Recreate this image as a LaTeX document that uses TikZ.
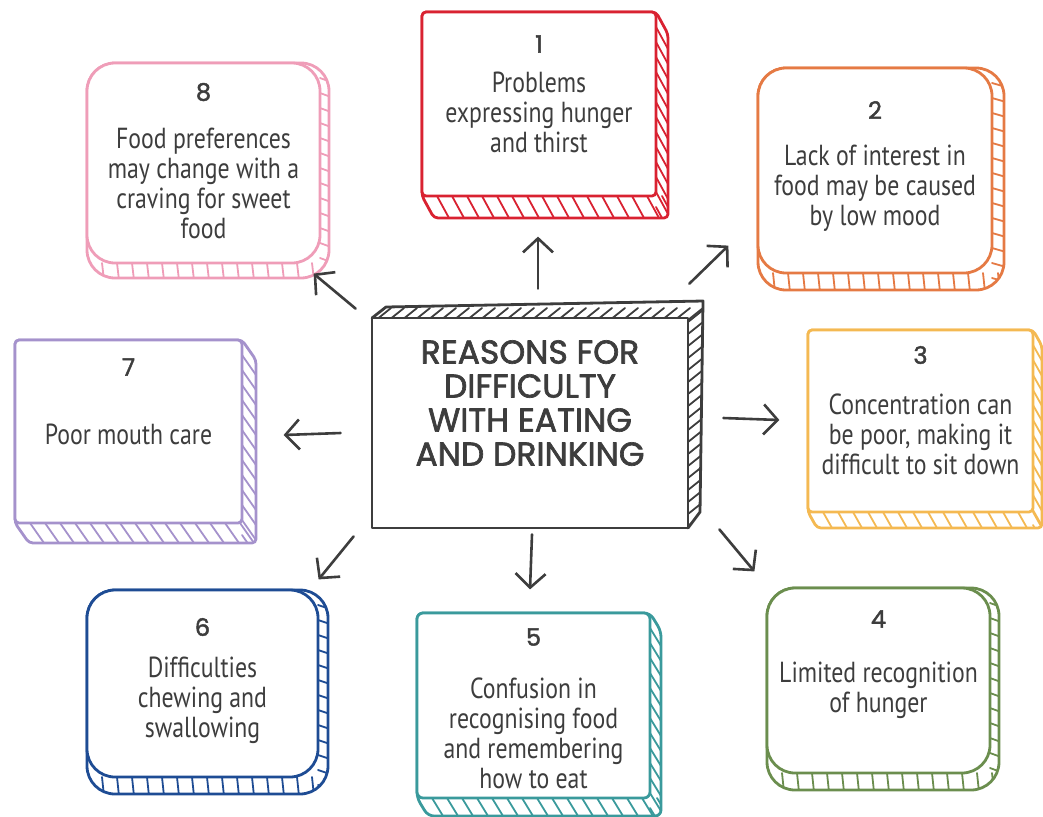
\documentclass[tikz,border=0pt]{standalone}
\usepackage{fontspec}
\setmainfont{PT Sans}[FakeStretch = 0.82]
\newfontfamily\titlefont{Poppins}[FakeBold = 2]
\newfontfamily\numfont{Poppins}[FakeBold = 1.8]
\usetikzlibrary{arrows.meta}

\definecolor{ink}{HTML}{3D3D3D}
\definecolor{redbox}{HTML}{D92231}
\definecolor{orangebox}{HTML}{E57A44}
\definecolor{yellowbox}{HTML}{F4B952}
\definecolor{greenbox}{HTML}{6B8E4E}
\definecolor{tealbox}{HTML}{3A9A9C}
\definecolor{bluebox}{HTML}{1E4C94}
\definecolor{purplebox}{HTML}{A592CC}
\definecolor{pinkbox}{HTML}{EF9DB8}

\begin{document}
\begin{tikzpicture}[x = 0.5pt, y = -0.5pt, > = {Straight Barb[length = 7pt, width = 15pt]},
	line join = round, line cap = round,
	frame/.style = {line width = 1.4pt},
	hatch/.style = {line width = 0.9pt},
	number/.style = {font = \numfont\fontsize{12}{14}\selectfont, text = ink},
	reason/.style = {font = \fontsize{14.5}{15}\selectfont, text = ink, align = center, inner sep = 0pt},
	title/.style = {font = \titlefont\fontsize{16.5}{17}\selectfont, text = ink, align = center, inner sep = 0pt},
	pointer/.style = {->, ink, line width = 1.3pt}]

	\useasboundingbox (0, 0) rectangle (1043, 816);

	% Central box: hatched top and right bands, then the front face
	
	\begin{scope}
		\clip (372, 318) -- (386, 307) -- (703, 301) -- (700, 512) -- (688, 528) -- (688, 318) -- cycle;
		\foreach \x in {376, 389, ..., 700}
			\draw [hatch, ink] (\x, 320) -- ++(15, -12);
		\foreach \y in {322, 334, ..., 528}
			\draw [hatch, ink] (688, \y) -- ++(15, -12);
	\end{scope}
	\draw [frame, ink] (372, 318) -- (386, 307) -- (703, 301) -- (700, 512) -- (688, 528);

	\node [frame, draw = ink, fill = white, minimum width = 158pt, minimum height = 105pt] (core) at (530, 423) {};
	\node [title] (title) at (530, 403) {REASONS FOR\\DIFFICULTY\\WITH EATING\\AND DRINKING};

	% Reason boxes: number / colour / front corners / depth / corner radius / rows of text
	
	\foreach \n/\col/\xa/\ya/\xb/\yb/\dx/\dy/\r/\ynum/\ytxt/\txt in {
		1/redbox/422/12/656/196/12/22/2pt/44/112/{Problems\\expressing hunger\\and thirst},
		2/orangebox/758/68/992/273/12/17/14pt/110/188/{Lack of interest in\\food may be caused\\by low mood},
		3/yellowbox/808/330/1033/512/9/16/2pt/355/434/{Concentration can\\be poor, making it\\difficult to sit down},
		4/greenbox/767/588/990/773/9/17/14pt/619/690/{Limited recognition\\of hunger},
		5/tealbox/417/613/650/798/11/18/3pt/637/733/{Confusion in\\recognising food\\and remembering\\how to eat},
		6/bluebox/87/590/318/777/10/17/14pt/627/700/{Difficulties\\chewing and\\swallowing},
		7/purplebox/15/340/242/523/14/20/2pt/367/434/{Poor mouth care},
		8/pinkbox/87/63/320/263/9/15/14pt/92/183/{Food preferences\\may change with a\\craving for sweet\\food}} {
		% square boxes: slanted band and slanted strokes,
		% round boxes: stretched copy behind, strokes straight across
		\ifdim \r < 5pt
			\def\band{[rounded corners = \r] (\xa, \ya) -- (\xb, \ya) -- (\xb + \dx, \ya + \dy) -- (\xb + \dx, \yb + \dy) -- (\xa + \dx, \yb + \dy) -- (\xa, \yb) -- cycle}
			\def\down{(\dx, \dy)}
			\def\side{(\dx, \dy)}
		\else
			\def\band{[rounded corners = \r] (\xa, \ya) rectangle (\xb + \dx, \yb + \dy)}
			\def\down{(2, \dy + 2)}
			\def\side{(\dx + 2, 4)}
		\fi
		\begin{scope}
			\clip \band;
			\foreach \s in {0, 15, ..., 255} {
				\draw [hatch, \col] (\xa + \s, \yb) -- ++\down;
				\draw [hatch, \col] (\xb, \ya + \s) -- ++\side;
			}
		\end{scope}
		\draw [frame, \col] \band;
		\draw [frame, \col, fill = white, rounded corners = \r] (\xa, \ya) rectangle (\xb, \yb);
		\node [number] (n\n) at ({(\xa + \xb) / 2}, \ynum) {\n};
		\node [reason] (t\n) at ({(\xa + \xb) / 2}, \ytxt) {\txt};
	}

	% Pointers from the central box out to each reason
	
	\draw [pointer] ([shift = {(8, -28)}] core.north) -- ++(0, -52);
	\draw [pointer] ([shift = {(0, -33)}] core.north east) -- ++(39, -38);
	\draw [pointer] ([shift = {(34, -5)}] core.east) -- ++(56, 2);
	\draw [pointer] ([shift = {(30, 0)}] core.south east) -- ++(35, 42);
	\draw [pointer] ([shift = {(2, 5)}] core.south) -- ++(-2, 55);
	\draw [pointer] ([shift = {(-17, 7)}] core.south west) -- ++(-35, 43);
	\draw [pointer] ([shift = {(-30, 10)}] core.west) -- ++(-57, 2);
	\draw [pointer] ([shift = {(-15, -8)}] core.north west) -- ++(-42, -35);

\end{tikzpicture}
\end{document}
